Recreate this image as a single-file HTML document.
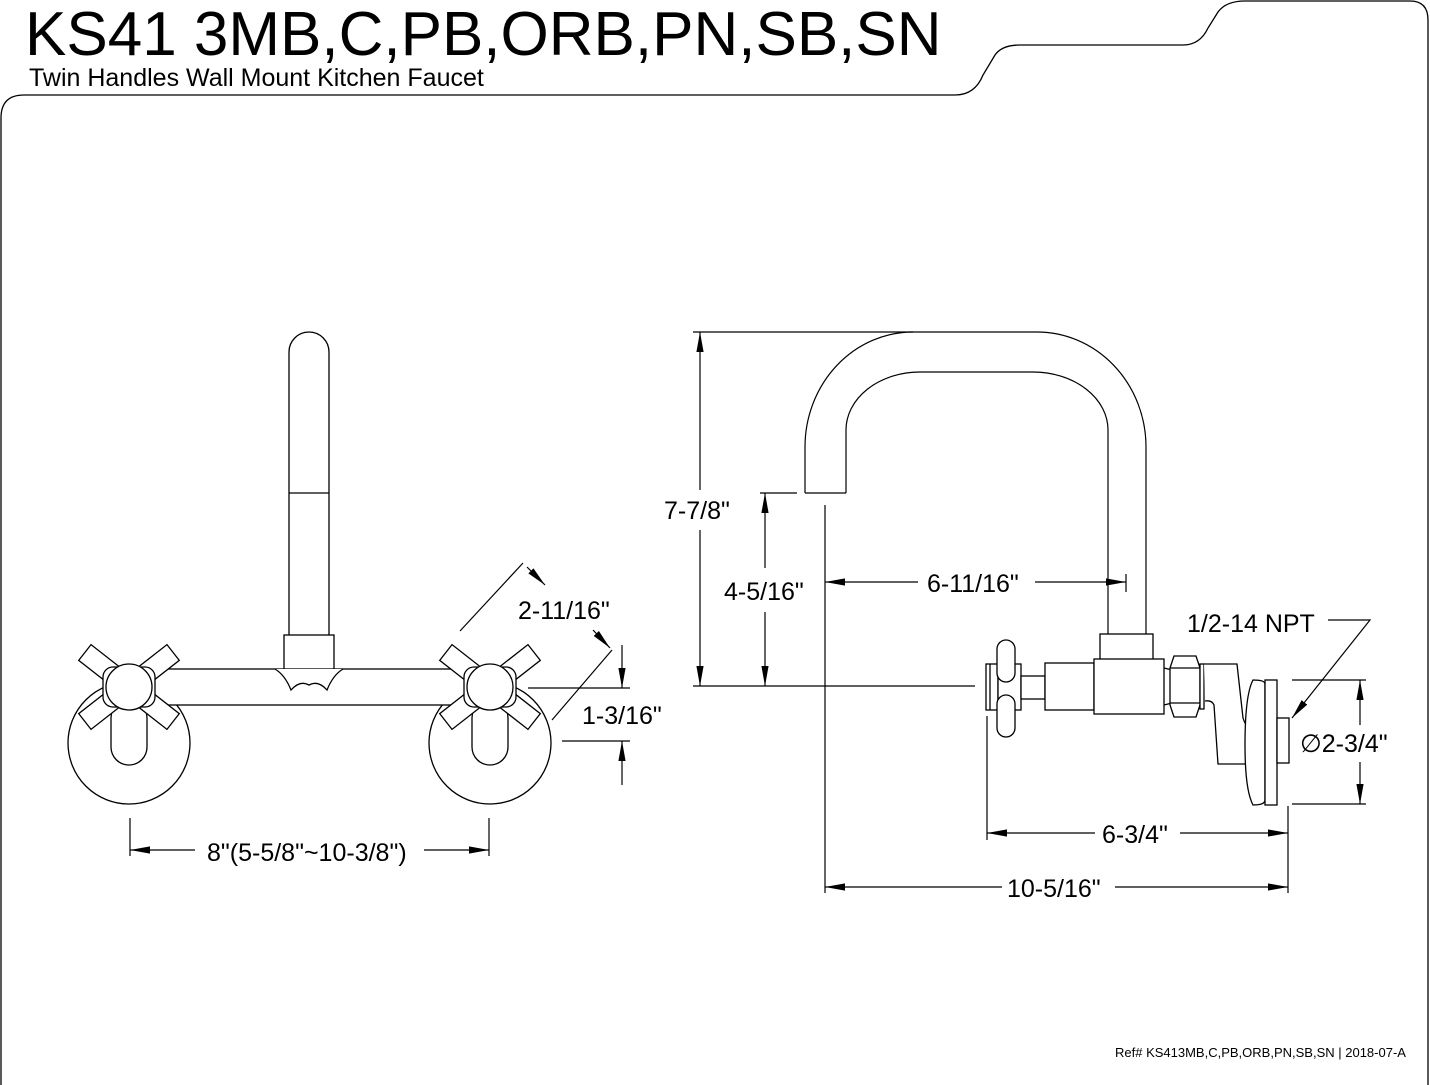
<!DOCTYPE html>
<html><head><meta charset="utf-8"><style>
html,body{margin:0;padding:0;background:#fff;}
svg{display:block;}
text{font-family:"Liberation Sans",sans-serif;fill:#000;}
</style></head><body>
<svg width="1430" height="1085" viewBox="0 0 1430 1085" xmlns="http://www.w3.org/2000/svg">
<defs>
<marker id="a" viewBox="0 0 10 10" refX="10" refY="5" markerWidth="20" markerHeight="9" preserveAspectRatio="none" markerUnits="userSpaceOnUse" orient="auto-start-reverse"><path d="M0,1 L10,5 L0,9 z" fill="#000"/></marker>
</defs>
<g fill="none" stroke="#000" stroke-width="1.3">
<path d="M1,1085 L1,118 Q1,95 24,95 L955,95 Q975,95 983,75 L995,55 Q1002,45 1020,45 L1183,45 Q1200,45 1208,28 L1218,12 Q1226,1 1245,1 L1410,1 Q1428,1 1428,20 L1428,1085"/>
</g>
<text x="25" y="55" font-size="62">KS41 3MB,C,PB,ORB,PN,SB,SN</text>
<text x="29" y="86" font-size="25">Twin Handles Wall Mount Kitchen Faucet</text>

<g fill="#fff" stroke="#000" stroke-width="1.3">
<path d="M289,635 L289,352 A20,20 0 0 1 329,352 L329,635"/>
<line x1="289" y1="493" x2="329" y2="493"/>
<circle cx="129" cy="743" r="61"/>
<circle cx="490" cy="743" r="61"/>
<rect x="111" y="700" width="36" height="65" rx="18" />
<rect x="472" y="700" width="36" height="65" rx="18" />
<rect x="150" y="669" width="315" height="36"/>
<rect x="284" y="635" width="50" height="34"/>
<path d="M275,669 Q285,675 291,690 Q300,680 309,685 Q318,680 327,690 Q333,675 343,669" />
<g transform="translate(129 687)">
<rect x="-56" y="-10" width="112" height="20" transform="rotate(-38)"/>
<rect x="-56" y="-10" width="112" height="20" transform="rotate(38)"/>
<rect x="-26" y="-20" width="52" height="40" rx="10"/>
<circle r="23"/>
</g>
<g transform="translate(490 687)">
<rect x="-56" y="-10" width="112" height="20" transform="rotate(-38)"/>
<rect x="-56" y="-10" width="112" height="20" transform="rotate(38)"/>
<rect x="-26" y="-20" width="52" height="40" rx="10"/>
<circle r="23"/>
</g>
</g>
<g fill="none" stroke="#000" stroke-width="1.2">
<line x1="130" y1="818" x2="130" y2="856"/>
<line x1="489" y1="818" x2="489" y2="856"/>
<line x1="130" y1="850" x2="195" y2="850" marker-start="url(#a)"/>
<line x1="424" y1="850" x2="489" y2="850" marker-end="url(#a)"/>
<line x1="460" y1="631" x2="523" y2="563"/>
<line x1="527" y1="567" x2="545" y2="585" marker-end="url(#a)"/>
<line x1="552" y1="720" x2="612" y2="650"/>
<line x1="593" y1="630" x2="610" y2="648" marker-end="url(#a)"/>
<line x1="528" y1="688" x2="630" y2="688"/>
<line x1="562" y1="741" x2="630" y2="741"/>
<line x1="622" y1="645" x2="622" y2="688" marker-end="url(#a)"/>
<line x1="622" y1="785" x2="622" y2="741" marker-end="url(#a)"/>

<path d="M805,493 L805,447 A108,115 0 0 1 913,332 L1037,332 A109,115 0 0 1 1146,447 L1146,635"/>
<path d="M846,493 L846,430 A74,58 0 0 1 920,372 L1033,372 A75,58 0 0 1 1108,430 L1108,635"/>
<line x1="805" y1="493" x2="846" y2="493"/>
<line x1="693" y1="332" x2="913" y2="332"/>
<line x1="700" y1="490" x2="700" y2="332" marker-end="url(#a)"/>
<line x1="700" y1="530" x2="700" y2="686" marker-end="url(#a)"/>
<line x1="760" y1="493" x2="797" y2="493"/>
<line x1="765" y1="568" x2="765" y2="493" marker-end="url(#a)"/>
<line x1="765" y1="612" x2="765" y2="686" marker-end="url(#a)"/>
<line x1="693" y1="686" x2="975" y2="686"/>
<line x1="825" y1="505" x2="825" y2="893"/>
<line x1="1126" y1="574" x2="1126" y2="592"/>
<line x1="918" y1="582" x2="825" y2="582" marker-end="url(#a)"/>
<line x1="1035" y1="582" x2="1126" y2="582" marker-end="url(#a)"/>
</g>
<g fill="#fff" stroke="#000" stroke-width="1.3">
<rect x="1100" y="634" width="53" height="26"/>
<rect x="986" y="664" width="12" height="46"/>
<line x1="990" y1="664" x2="990" y2="710"/>
<rect x="998" y="664" width="23" height="46"/>
<rect x="997" y="640" width="18" height="42" rx="9"/>
<rect x="997" y="695" width="18" height="42" rx="9"/>
<rect x="1021" y="676" width="24" height="23"/>
<rect x="1045" y="663" width="49" height="47"/>
<rect x="1094" y="659" width="70" height="55"/>
<path d="M1164,668 L1172,670 M1164,705 L1172,703"/>
<path d="M1174,656 L1196,656 L1200,668 L1200,705 L1196,717 L1174,717 L1170,705 L1170,668 z"/>
<line x1="1170" y1="668" x2="1200" y2="668"/><line x1="1170" y1="703" x2="1200" y2="703"/>
<rect x="1200" y="664" width="4" height="45"/>
<path d="M1204,664 L1237,664 L1243,718 Q1245,726 1254,733 L1254,764 L1218,764 L1214,705 Q1212,700 1205,701"/>
<path d="M1253,680 Q1265,680 1265,684 L1265,800 Q1265,805 1253,805 Q1245,790 1245,745 Q1245,695 1253,680 z"/>
<rect x="1265" y="680" width="12" height="125"/>
<rect x="1277" y="718" width="12" height="45"/>
</g>
<g fill="none" stroke="#000" stroke-width="1.2">
<line x1="987" y1="716" x2="987" y2="840"/>
<line x1="1288" y1="806" x2="1288" y2="893"/>
<line x1="1095" y1="833" x2="987" y2="833" marker-end="url(#a)"/>
<line x1="1180" y1="833" x2="1288" y2="833" marker-end="url(#a)"/>
<line x1="1002" y1="887" x2="825" y2="887" marker-end="url(#a)"/>
<line x1="1115" y1="887" x2="1288" y2="887" marker-end="url(#a)"/>
<line x1="1292" y1="680" x2="1366" y2="680"/>
<line x1="1292" y1="804" x2="1366" y2="804"/>
<line x1="1360" y1="725" x2="1360" y2="680" marker-end="url(#a)"/>
<line x1="1360" y1="762" x2="1360" y2="804" marker-end="url(#a)"/>
<path d="M1328,620 L1370,620 L1292,718" marker-end="url(#a)"/>
</g>
<g font-size="25">
<text x="518" y="619">2-11/16"</text>
<text x="582" y="724">1-3/16"</text>
<text x="207" y="861">8"(5-5/8"~10-3/8")</text>
<text x="664" y="519">7-7/8"</text>
<text x="724" y="600">4-5/16"</text>
<text x="927" y="592">6-11/16"</text>
<text x="1187" y="632">1/2-14 NPT</text>
<text x="1300" y="752">∅2-3/4"</text>
<text x="1102" y="843">6-3/4"</text>
<text x="1007" y="897">10-5/16"</text>
</g>
<text x="1115" y="1057" font-size="13">Ref# KS413MB,C,PB,ORB,PN,SB,SN | 2018-07-A</text>
</svg>
</body></html>
